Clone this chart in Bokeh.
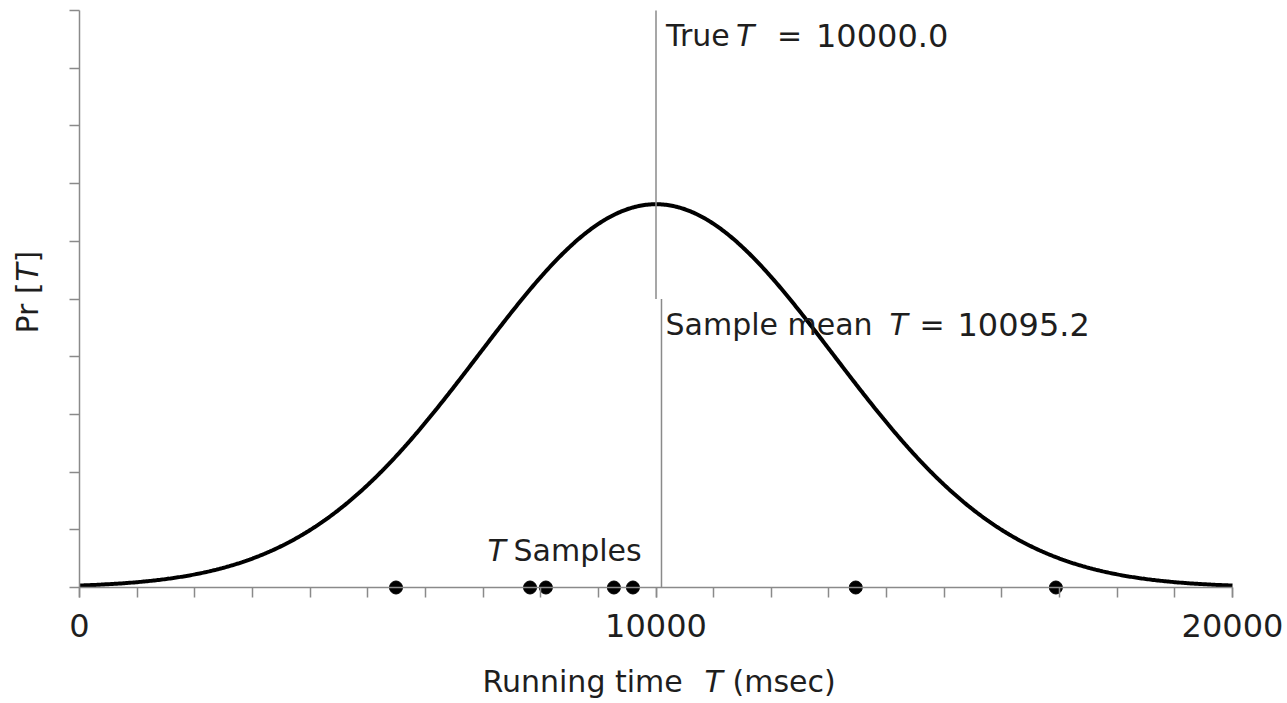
import numpy as np
from bokeh.plotting import figure
from bokeh.models import Range1d, LinearAxis, FixedTicker, Label, ColumnDataSource
from bokeh.embed import file_html
from bokeh.resources import INLINE

# Model parameters
TRUE_T = 10000.0          # true mean running time (msec)
SIGMA = 3080.0            # spread of the running time distribution (msec)
T_MIN, T_MAX = 0, 20000
Y_MAX = 1.95e-4

# Observed running times (msec)
samples = [5490, 7815, 8090, 9270, 9600, 13465, 16936.4]
sample_mean = float(np.mean(samples))

x_major_ticks = [0, 10000, 20000]
x_minor_ticks = list(range(0, 20001, 1000))
y_ticks = [Y_MAX * k / 10 for k in range(11)]

FONT = "DejaVu Sans"
FS = "30px"
FS_NUM = "32px"
TXT = "#1e1e1e"
GREY = "#8a8a8a"

W, H = 1287, 703
# plot area in canvas pixels: T axis from 79 to 1232, density axis from 587 up to 10
X0_PX, X1_PX, Y0_PX, Y1_PX = 79, 1232, 587, 10
sx = (X1_PX - X0_PX) / (T_MAX - T_MIN)
sy = (Y0_PX - Y1_PX) / Y_MAX
x_range = Range1d(T_MIN - X0_PX / sx, T_MIN + (W - X0_PX) / sx)
y_range = Range1d(-(H - Y0_PX) / sy, Y0_PX / sy)

# Normal density curve
t = np.linspace(T_MIN, T_MAX, 801)
pdf = np.exp(-0.5 * ((t - TRUE_T) / SIGMA) ** 2) / (SIGMA * np.sqrt(2 * np.pi))

p = figure(width=W, height=H, x_range=x_range, y_range=y_range,
           x_axis_type=None, y_axis_type=None,
           output_backend="svg", toolbar_location=None,
           min_border=0, min_border_left=0, min_border_right=0,
           min_border_top=0, min_border_bottom=0)
p.outline_line_color = None
p.background_fill_color = "white"
p.border_fill_color = "white"

xaxis = LinearAxis(ticker=FixedTicker(ticks=x_major_ticks, minor_ticks=x_minor_ticks),
                   fixed_location=0, bounds=(T_MIN, T_MAX))
xaxis.axis_line_color = GREY
xaxis.axis_line_width = 1.5
xaxis.major_tick_line_color = GREY
xaxis.minor_tick_line_color = GREY
xaxis.major_tick_line_width = 1.5
xaxis.minor_tick_line_width = 1.5
xaxis.major_tick_in = 0
xaxis.major_tick_out = 10
xaxis.minor_tick_in = 0
xaxis.minor_tick_out = 10
xaxis.major_label_text_font = FONT
xaxis.major_label_text_font_size = FS_NUM
xaxis.major_label_text_color = TXT
xaxis.major_label_standoff = 16
p.add_layout(xaxis, "below")

yaxis = LinearAxis(ticker=FixedTicker(ticks=[], minor_ticks=y_ticks),
                   fixed_location=0, bounds=(0, Y_MAX))
yaxis.axis_line_color = GREY
yaxis.axis_line_width = 1.5
yaxis.minor_tick_line_color = GREY
yaxis.minor_tick_line_width = 1.5
yaxis.minor_tick_in = 0
yaxis.minor_tick_out = 10
yaxis.major_tick_in = 0
yaxis.major_tick_out = 0
p.add_layout(yaxis, "left")

# Density curve
p.line(t, pdf, line_color="black", line_width=4)

# Reference lines for the true and sample means
p.segment(x0=[TRUE_T], y0=[Y_MAX / 2], x1=[TRUE_T], y1=[Y_MAX],
          line_color=GREY, line_width=1.5)
p.segment(x0=[sample_mean], y0=[0], x1=[sample_mean], y1=[Y_MAX / 2],
          line_color=GREY, line_width=1.5)

# Sample points on the time axis
src = ColumnDataSource(dict(x=samples, y=[0] * len(samples)))
p.scatter("x", "y", source=src, size=13, color="black")


def lab(text, x, y, dx, dy, italic=False, angle=0.0, size=FS):
    p.add_layout(Label(x=x, y=y, x_offset=dx, y_offset=dy, text=text,
                       text_font=FONT, text_font_size=size, text_color=TXT,
                       text_font_style="italic" if italic else "normal",
                       text_align="left", text_baseline="alphabetic",
                       angle=angle))


# True mean label
lab("True", TRUE_T, Y_MAX, 10, -25)
lab("T", TRUE_T, Y_MAX, 80, -25, italic=True)
lab("=", TRUE_T, Y_MAX, 121, -25)
lab("%.1f" % TRUE_T, TRUE_T, Y_MAX, 160, -25, size=FS_NUM)

# Sample mean label
lab("Sample mean", sample_mean, Y_MAX / 2, 4, -25)
lab("T", sample_mean, Y_MAX / 2, 228, -25, italic=True)
lab("=", sample_mean, Y_MAX / 2, 258, -25)
lab("%.1f" % sample_mean, sample_mean, Y_MAX / 2, 296, -25, size=FS_NUM)

# Samples caption
lab("T", 0, 0, 408, 37, italic=True)
lab("Samples", 0, 0, 434, 37)

# X axis title
lab("Running time", 0, 0, 403, -94)
lab("T", 0, 0, 625, -94, italic=True)
lab("(msec)", 0, 0, 653, -94)

# Y axis title (rotated)
lab("Pr [", 0, 0, -52, 254, angle=np.pi / 2)
lab("T", 0, 0, -52, 306, italic=True, angle=np.pi / 2)
lab("]", 0, 0, -52, 325, angle=np.pi / 2)

open("out.html", "w").write(file_html(p, INLINE))
